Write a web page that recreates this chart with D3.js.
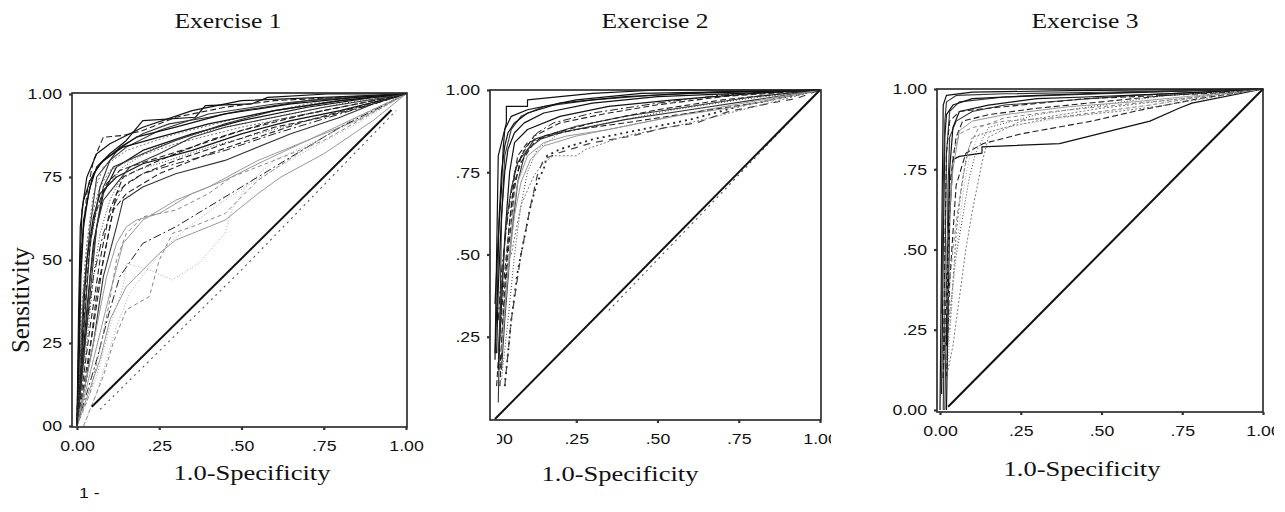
<!DOCTYPE html>
<html><head><meta charset="utf-8">
<script src="https://cdn.jsdelivr.net/npm/d3@7"></script>
<style>html,body{margin:0;padding:0;background:#fff;} svg{display:block;background:#fff;}</style>
</head><body><svg id="c" width="1285" height="512"></svg>
<script>
// ---------- DATA ----------
const panelTitles = ["Exercise 1", "Exercise 2", "Exercise 3"];
const xAxisTitle = "1.0-Specificity";
const yAxisTitle = "Sensitivity";
const footNote = "1 -";
const xTickValues = [0, 0.25, 0.5, 0.75, 1];
const xTickLabels = ["0.00", ".25", ".50", ".75", "1.00"];
const yTickValues1 = [0, 0.25, 0.5, 0.75, 1];
const yTickLabels1 = ["00", "25", "50", "75", "1.00"];
const yTickValues2 = [0.25, 0.5, 0.75, 1];
const yTickLabels2 = [".25", ".50", ".75", "1.00"];
const yTickValues3 = [0, 0.25, 0.5, 0.75, 1];
const yTickLabels3 = ["0.00", ".25", ".50", ".75", "1.00"];

// ROC curves, points are [1-specificity, sensitivity]
const ex1Curves = [
  [[0,0],[0.01,0.45],[0.02,0.62],[0.04,0.72],[0.06,0.78],[0.1,0.82],[0.15,0.86],[0.2,0.92],[0.36,0.93],[0.39,0.965],[0.53,0.97],[0.58,0.99],[0.76,1],[1,1]],
  [[0,0.02],[0.01,0.5],[0.03,0.7],[0.05,0.8],[0.08,0.87],[0.14,0.875],[0.2,0.89],[0.3,0.93],[0.45,0.96],[0.6,0.98],[0.8,0.99],[1,1]],
  [[0,0],[0.02,0.4],[0.04,0.6],[0.06,0.75],[0.1,0.8],[0.15,0.84],[0.25,0.89],[0.4,0.94],[0.6,0.97],[0.8,0.99],[1,1]],
  [[0,0],[0.01,0.3],[0.03,0.55],[0.05,0.7],[0.08,0.78],[0.15,0.83],[0.3,0.88],[0.5,0.93],[0.7,0.97],[1,1]],
  [[0,0],[0.03,0.35],[0.05,0.55],[0.08,0.7],[0.12,0.78],[0.2,0.83],[0.35,0.88],[0.5,0.92],[0.7,0.96],[0.9,0.99],[1,1]],
  [[0,0],[0.04,0.3],[0.07,0.5],[0.1,0.65],[0.14,0.75],[0.25,0.8],[0.4,0.86],[0.6,0.92],[0.8,0.96],[1,1]],
  [[0,0],[0.05,0.25],[0.08,0.45],[0.12,0.6],[0.14,0.68],[0.2,0.72],[0.3,0.76],[0.45,0.8],[0.5,0.82],[0.65,0.88],[0.8,0.93],[0.9,0.97],[1,1]],
  [[0,0],[0.05,0.2],[0.1,0.4],[0.14,0.55],[0.2,0.62],[0.3,0.68],[0.4,0.72],[0.55,0.8],[0.7,0.86],[0.85,0.92],[1,1]],
  [[0,0],[0.06,0.15],[0.1,0.3],[0.14,0.42],[0.15,0.49],[0.22,0.47],[0.29,0.44],[0.37,0.49],[0.45,0.58],[0.47,0.65],[0.52,0.73],[0.6,0.8],[0.75,0.87],[0.9,0.95],[1,1]],
  [[0,0],[0.06,0.2],[0.1,0.35],[0.13,0.45],[0.2,0.55],[0.3,0.6],[0.4,0.66],[0.5,0.72],[0.6,0.78],[0.65,0.81],[0.8,0.9],[1,1]],
  [[0.02,0],[0.08,0.15],[0.11,0.25],[0.15,0.35],[0.22,0.39],[0.25,0.5],[0.29,0.58],[0.35,0.6],[0.45,0.64],[0.55,0.74],[0.7,0.84],[0.85,0.93],[1,1]],
  [[0,0],[0.005,0.2],[0.01,0.5],[0.015,0.65],[0.03,0.75],[0.06,0.82],[0.1,0.85],[0.2,0.9],[0.35,0.95],[0.5,0.98],[1,1]],
  [[0,0],[0.02,0.2],[0.04,0.45],[0.06,0.6],[0.08,0.72],[0.11,0.78],[0.2,0.82],[0.3,0.86],[0.45,0.91],[0.6,0.95],[0.8,0.98],[1,1]],
  [[0,0],[0.03,0.15],[0.06,0.4],[0.09,0.55],[0.11,0.65],[0.15,0.7],[0.25,0.76],[0.4,0.82],[0.55,0.87],[0.7,0.92],[0.85,0.96],[1,1]],
  [[0,0],[0.04,0.1],[0.08,0.28],[0.1,0.38],[0.12,0.5],[0.15,0.58],[0.2,0.63],[0.3,0.65],[0.4,0.7],[0.47,0.75],[0.6,0.8],[0.75,0.86],[1,1]],
  [[0,0],[0.015,0.3],[0.025,0.5],[0.04,0.62],[0.07,0.72],[0.1,0.77],[0.18,0.81],[0.3,0.85],[0.5,0.9],[0.7,0.94],[0.9,0.98],[1,1]],
  [[0,0],[0.01,0.1],[0.02,0.35],[0.03,0.5],[0.05,0.63],[0.07,0.7],[0.12,0.75],[0.2,0.79],[0.35,0.83],[0.5,0.88],[0.65,0.92],[0.8,0.95],[1,1]],
  [[0,0],[0.07,0.2],[0.1,0.32],[0.15,0.42],[0.18,0.45],[0.25,0.52],[0.3,0.56],[0.4,0.6],[0.45,0.62],[0.55,0.7],[0.62,0.75],[0.75,0.82],[0.9,0.92],[1,1]],
  [[0,0],[0.04,0.55],[0.07,0.72],[0.1,0.8],[0.13,0.84],[0.2,0.88],[0.28,0.91],[0.4,0.93],[0.5,0.95],[0.7,0.98],[1,1]],
  [[0,0],[0.05,0.3],[0.08,0.5],[0.1,0.6],[0.12,0.7],[0.15,0.73],[0.2,0.76],[0.3,0.8],[0.45,0.85],[0.6,0.9],[0.75,0.93],[0.9,0.97],[1,1]],
  [[0,0],[0.008,0.25],[0.012,0.45],[0.02,0.6],[0.035,0.7],[0.05,0.76],[0.08,0.8],[0.14,0.84],[0.25,0.87],[0.4,0.91],[0.6,0.95],[0.8,0.98],[1,1]],
  [[0,0],[0.03,0.25],[0.05,0.45],[0.07,0.58],[0.1,0.68],[0.13,0.74],[0.18,0.77],[0.28,0.8],[0.4,0.84],[0.55,0.88],[0.7,0.92],[0.85,0.96],[1,1]],
  [[0.02,0],[0.06,0.1],[0.09,0.2],[0.12,0.3],[0.16,0.4],[0.22,0.48],[0.28,0.55],[0.34,0.6],[0.42,0.66],[0.48,0.7],[0.56,0.75],[0.7,0.83],[0.85,0.91],[1,1]],
  [[0,0],[0.005,0.35],[0.01,0.6],[0.02,0.68],[0.04,0.74],[0.07,0.79],[0.12,0.83],[0.18,0.87],[0.3,0.9],[0.45,0.94],[0.65,0.97],[0.85,0.99],[1,1]],
  [[0,0],[0.02,0.3],[0.035,0.5],[0.05,0.62],[0.07,0.68],[0.09,0.73],[0.13,0.77],[0.22,0.8],[0.35,0.84],[0.5,0.89],[0.7,0.94],[1,1]],
  [[0,0],[0.06,0.3],[0.09,0.45],[0.12,0.55],[0.15,0.6],[0.18,0.62],[0.25,0.64],[0.35,0.7],[0.45,0.74],[0.55,0.79],[0.7,0.86],[0.85,0.93],[1,1]],
  [[0,0],[0.01,0.2],[0.02,0.4],[0.04,0.55],[0.06,0.65],[0.09,0.72],[0.14,0.78],[0.22,0.83],[0.32,0.87],[0.45,0.9],[0.6,0.93],[0.8,0.97],[1,1]],
  [[0,0],[0.04,0.4],[0.06,0.6],[0.08,0.68],[0.12,0.73],[0.16,0.78],[0.25,0.82],[0.35,0.87],[0.45,0.9],[0.55,0.92],[0.75,0.96],[1,1]],
  [[0,0],[0.01,0.15],[0.03,0.3],[0.05,0.45],[0.08,0.58],[0.11,0.66],[0.14,0.72],[0.2,0.76],[0.3,0.79],[0.45,0.83],[0.6,0.88],[0.8,0.94],[1,1]]
];
const ex1Reference = [[0.045,0.058],[0.956,0.952]];
const ex1Chance = [[0.07,0.05],[0.5,0.47],[0.97,0.95]];

const ex2Curves = [
  [[0,0.18],[0.005,0.5],[0.01,0.8],[0.02,0.84],[0.035,0.9],[0.035,0.95],[0.1,0.95],[0.1,0.97],[0.3,0.99],[0.5,1],[1,1]],
  [[0.01,0.05],[0.015,0.3],[0.02,0.6],[0.03,0.8],[0.05,0.88],[0.08,0.92],[0.15,0.95],[0.3,0.97],[0.5,0.985],[0.7,0.995],[1,1]],
  [[0.01,0.15],[0.02,0.35],[0.03,0.55],[0.045,0.75],[0.06,0.84],[0.1,0.88],[0.2,0.92],[0.35,0.95],[0.55,0.97],[0.8,0.99],[1,1]],
  [[0.015,0.1],[0.025,0.3],[0.04,0.5],[0.06,0.7],[0.08,0.8],[0.12,0.86],[0.2,0.9],[0.35,0.93],[0.5,0.955],[0.7,0.98],[1,1]],
  [[0.02,0.15],[0.03,0.3],[0.05,0.55],[0.07,0.72],[0.09,0.8],[0.12,0.85],[0.25,0.89],[0.4,0.92],[0.6,0.95],[0.8,0.98],[1,1]],
  [[0.02,0.12],[0.04,0.3],[0.06,0.5],[0.08,0.65],[0.1,0.75],[0.13,0.82],[0.2,0.87],[0.35,0.9],[0.55,0.94],[0.75,0.97],[1,1]],
  [[0.03,0.1],[0.05,0.3],[0.07,0.45],[0.09,0.55],[0.11,0.65],[0.13,0.72],[0.15,0.76],[0.16,0.8],[0.2,0.82],[0.3,0.85],[0.45,0.88],[0.6,0.91],[0.75,0.95],[0.9,0.98],[1,1]],
  [[0.05,0.5],[0.08,0.65],[0.12,0.74],[0.15,0.78],[0.18,0.8],[0.25,0.8],[0.28,0.82],[0.4,0.86],[0.6,0.9],[0.8,0.95],[1,1]],
  [[0,0.2],[0.008,0.4],[0.012,0.6],[0.02,0.75],[0.03,0.83],[0.04,0.87],[0.06,0.9],[0.1,0.93],[0.2,0.96],[0.4,0.98],[0.6,0.99],[1,1]],
  [[0.005,0.1],[0.015,0.25],[0.03,0.45],[0.045,0.6],[0.06,0.72],[0.08,0.78],[0.12,0.84],[0.15,0.86],[0.3,0.9],[0.5,0.94],[0.7,0.97],[1,1]],
  [[0.01,0.2],[0.02,0.4],[0.035,0.6],[0.05,0.7],[0.07,0.78],[0.1,0.82],[0.14,0.85],[0.2,0.87],[0.4,0.91],[0.6,0.94],[0.8,0.97],[1,1]],
  [[0.02,0.25],[0.04,0.45],[0.06,0.62],[0.08,0.72],[0.11,0.79],[0.15,0.83],[0.25,0.86],[0.45,0.9],[0.65,0.94],[0.85,0.975],[1,1]],
  [[0,0.35],[0.01,0.55],[0.02,0.7],[0.025,0.82],[0.03,0.88],[0.04,0.9],[0.05,0.92],[0.1,0.94],[0.25,0.97],[0.45,0.99],[1,1]],
  [[0.01,0.3],[0.02,0.45],[0.04,0.62],[0.06,0.75],[0.09,0.82],[0.13,0.87],[0.18,0.9],[0.3,0.93],[0.5,0.96],[0.7,0.985],[1,1]],
  [[0.03,0.1],[0.05,0.3],[0.08,0.5],[0.11,0.65],[0.13,0.74],[0.15,0.79],[0.2,0.81],[0.3,0.84],[0.42,0.86],[0.52,0.885],[0.62,0.9],[0.72,0.935],[0.85,0.96],[0.93,0.975],[1,1]],
  [[0.005,0.2],[0.01,0.4],[0.02,0.62],[0.03,0.75],[0.04,0.82],[0.06,0.87],[0.09,0.9],[0.15,0.93],[0.3,0.96],[0.5,0.98],[0.75,0.99],[1,1]],
  [[0.015,0.15],[0.03,0.4],[0.045,0.6],[0.06,0.74],[0.07,0.8],[0.1,0.84],[0.16,0.86],[0.25,0.88],[0.4,0.9],[0.6,0.93],[0.8,0.96],[1,1]],
  [[0.02,0.2],[0.04,0.45],[0.055,0.62],[0.07,0.72],[0.1,0.8],[0.15,0.84],[0.22,0.86],[0.35,0.88],[0.55,0.92],[0.75,0.95],[1,1]]
];
const ex2Reference = [[0,0],[1,1]];
const ex2Chance = [[0.35,0.33],[0.7,0.69],[0.97,0.97]];

const ex3Curves = [
  [[0,0],[0.005,0.5],[0.01,0.95],[0.02,0.98],[0.1,0.99],[0.4,0.995],[1,1]],
  [[0.01,0],[0.015,0.4],[0.02,0.8],[0.03,0.93],[0.06,0.96],[0.2,0.975],[0.5,0.985],[0.8,0.995],[1,1]],
  [[0.02,0],[0.025,0.3],[0.03,0.6],[0.04,0.78],[0.06,0.79],[0.13,0.8],[0.13,0.82],[0.37,0.83],[0.65,0.9],[0.74,0.94],[0.78,0.956],[1,1]],
  [[0.02,0.1],[0.03,0.4],[0.05,0.7],[0.08,0.8],[0.134,0.83],[0.25,0.86],[0.47,0.9],[0.6,0.93],[0.8,0.97],[1,1]],
  [[0.02,0.1],[0.04,0.2],[0.06,0.35],[0.08,0.5],[0.1,0.62],[0.12,0.72],[0.13,0.77],[0.15,0.85],[0.25,0.9],[0.5,0.94],[0.75,0.97],[1,1]],
  [[0.01,0.15],[0.03,0.3],[0.05,0.48],[0.07,0.6],[0.09,0.72],[0.11,0.8],[0.15,0.88],[0.3,0.92],[0.5,0.95],[0.7,0.98],[1,1]],
  [[0.015,0.2],[0.025,0.35],[0.04,0.5],[0.055,0.62],[0.07,0.72],[0.09,0.82],[0.12,0.88],[0.2,0.91],[0.35,0.93],[0.55,0.95],[0.75,0.97],[1,1]],
  [[0.005,0.05],[0.01,0.5],[0.015,0.85],[0.02,0.92],[0.04,0.95],[0.1,0.97],[0.3,0.98],[0.6,0.99],[1,1]],
  [[0.015,0],[0.02,0.3],[0.025,0.7],[0.03,0.85],[0.05,0.9],[0.1,0.93],[0.2,0.95],[0.4,0.965],[0.6,0.98],[0.8,0.99],[1,1]],
  [[0.01,0.1],[0.02,0.4],[0.03,0.7],[0.05,0.85],[0.07,0.9],[0.15,0.92],[0.3,0.94],[0.5,0.96],[0.7,0.98],[1,1]],
  [[0.01,0.2],[0.02,0.5],[0.04,0.75],[0.06,0.87],[0.1,0.9],[0.2,0.92],[0.4,0.945],[0.6,0.96],[0.8,0.98],[1,1]],
  [[0.02,0.2],[0.025,0.5],[0.03,0.75],[0.04,0.88],[0.06,0.93],[0.15,0.95],[0.3,0.97],[0.45,0.975],[0.7,0.985],[1,1]],
  [[0.03,0.25],[0.04,0.4],[0.05,0.55],[0.065,0.68],[0.08,0.78],[0.1,0.85],[0.2,0.88],[0.35,0.91],[0.55,0.93],[0.7,0.95],[0.85,0.975],[1,1]],
  [[0.005,0.3],[0.01,0.7],[0.015,0.9],[0.02,0.96],[0.05,0.98],[0.2,0.985],[0.5,0.99],[0.75,0.995],[1,1]],
  [[0.01,0.1],[0.015,0.5],[0.02,0.8],[0.03,0.9],[0.06,0.93],[0.15,0.94],[0.3,0.955],[0.45,0.97],[0.7,0.98],[0.9,0.99],[1,1]],
  [[0.02,0.3],[0.03,0.6],[0.04,0.8],[0.06,0.86],[0.1,0.88],[0.2,0.9],[0.35,0.91],[0.5,0.93],[0.65,0.95],[0.8,0.975],[1,1]],
  [[0.025,0.15],[0.035,0.3],[0.045,0.45],[0.06,0.58],[0.075,0.7],[0.09,0.78],[0.12,0.86],[0.25,0.89],[0.45,0.92],[0.65,0.95],[0.85,0.98],[1,1]]
];
const ex3Reference = [[0.025,0.01],[1,1]];

// ---------- STYLES (kept apart from data) ----------
const lineStyles = [
  {c:"#111", w:1.2, d:null},
  {c:"#222", w:1.1, d:"6,3"},
  {c:"#777", w:1.0, d:"2,2"},
  {c:"#333", w:1.1, d:null},
  {c:"#888", w:1.0, d:"4,3"},
  {c:"#444", w:1.0, d:"1,2"},
  {c:"#999", w:1.0, d:null},
  {c:"#222", w:1.0, d:"8,3,2,3"},
  {c:"#222", w:1.8, d:"2,4"},
  {c:"#444", w:1.2, d:"7,6"},
  {c:"#aaa", w:1.0, d:"1,2"}
];
const ex1Styles = [0,1,3,2,0,1,3,6,10,7,4,0,3,1,4,2,0,6,3,1,0,5,10,0,1,6,5,3,7];
const ex2Styles = [0,3,0,1,3,5,8,2,0,1,3,6,0,7,9,0,1,6];
const ex3Styles = [0,3,0,1,2,5,4,0,3,1,6,0,2,3,1,4,10];

const layout = [
  {frame:{l:72,t:93,r:407,b:427}, xr:[77,406], yr:[426,94], titleX:228, axX:252, axY:480, clipX:null},
  {frame:{l:490,t:90,r:821,b:420}, xr:[495,820], yr:[419,90], titleX:655, axX:620, axY:481, clipX:[497,831]},
  {frame:{l:937,t:89,r:1263,b:412}, xr:[940,1263], yr:[410,89], titleX:1085, axX:1082, axY:476, clipX:[900,1274]}
];
const curveSets = [ex1Curves, ex2Curves, ex3Curves];
const styleSets = [ex1Styles, ex2Styles, ex3Styles];
const refSets = [[ex1Reference],[ex2Reference],[ex3Reference]];
const chanceSets = [[ex1Chance],[ex2Chance],[]];
const yTickValueSets = [yTickValues1, yTickValues2, yTickValues3];
const yTickLabelSets = [yTickLabels1, yTickLabels2, yTickLabels3];

// ---------- DRAW ----------
const svg = d3.select("#c");
const defs = svg.append("defs");
const sansFont = "'Liberation Sans', Arial, sans-serif";
const serifFont = "'Liberation Serif', 'Times New Roman', serif";

layout.forEach((L, p) => {
  const x = d3.scaleLinear().domain([0,1]).range(L.xr);
  const y = d3.scaleLinear().domain([0,1]).range(L.yr);
  const g = svg.append("g");
  const line = d3.line().x(d => x(d[0])).y(d => y(d[1]));

  g.append("g").selectAll("path").data(curveSets[p]).join("path")
    .attr("d", line)
    .attr("fill","none")
    .attr("stroke", (d,i) => lineStyles[styleSets[p][i]].c)
    .attr("stroke-width", (d,i) => lineStyles[styleSets[p][i]].w)
    .attr("stroke-dasharray", (d,i) => lineStyles[styleSets[p][i]].d)
    .attr("stroke-linejoin","round");

  g.append("g").selectAll("path").data(chanceSets[p]).join("path")
    .attr("d", line).attr("fill","none").attr("stroke","#555")
    .attr("stroke-width",1.1).attr("stroke-dasharray","2,4");

  g.append("g").selectAll("path").data(refSets[p]).join("path")
    .attr("d", line).attr("fill","none").attr("stroke","#111").attr("stroke-width",2);

  const F = L.frame;
  g.append("rect").attr("x",F.l).attr("y",F.t).attr("width",F.r-F.l).attr("height",F.b-F.t)
    .attr("fill","none").attr("stroke","#222").attr("stroke-width",1.6);

  const xa = g.append("g").attr("transform",`translate(0,${F.b})`)
    .call(d3.axisBottom(x).tickValues(xTickValues).tickFormat((d,i)=>xTickLabels[i]).tickSize(3).tickPadding(10));
  if (L.clipX) {
    const id = "clipx"+p;
    defs.append("clipPath").attr("id",id).append("rect")
      .attr("x",L.clipX[0]).attr("y",-20).attr("width",L.clipX[1]-L.clipX[0]).attr("height",60);
    xa.attr("clip-path",`url(#${id})`);
  }
  const ya = g.append("g").attr("transform",`translate(${F.l},0)`)
    .call(d3.axisLeft(y).tickValues(yTickValueSets[p]).tickFormat((d,i)=>yTickLabelSets[p][i]).tickSize(3).tickPadding(7));
  [xa, ya].forEach(a => {
    a.select(".domain").remove();
    a.selectAll(".tick line").attr("stroke","#333").attr("stroke-width",2.2);
    a.selectAll(".tick text").attr("fill","#111").attr("font-family",sansFont).attr("font-size",15).classed("stretch",true);
  });

  g.append("text").attr("x",L.titleX).attr("y",28).attr("text-anchor","middle")
    .attr("font-family",serifFont).attr("font-size",21).attr("fill","#111")
    .attr("textLength",107).attr("lengthAdjust","spacingAndGlyphs").text(panelTitles[p]);
  g.append("text").attr("x",L.axX).attr("y",L.axY).attr("text-anchor","middle")
    .attr("font-family",serifFont).attr("font-size",21).attr("fill","#111")
    .attr("textLength",157).attr("lengthAdjust","spacingAndGlyphs").text(xAxisTitle);
});

svg.append("text").attr("transform","translate(29,300) rotate(-90) scale(1,1.2)")
  .attr("text-anchor","middle").attr("font-family",serifFont).attr("font-size",21).attr("fill","#111")
  .attr("textLength",106).attr("lengthAdjust","spacingAndGlyphs").text(yAxisTitle);

svg.append("text").attr("x",79).attr("y",498).attr("font-family",sansFont).attr("font-size",15)
  .attr("fill","#111").classed("stretch",true).text(footNote);

svg.selectAll("text.stretch").each(function(){
  const len = this.getComputedTextLength();
  d3.select(this).attr("textLength", len*1.18).attr("lengthAdjust","spacingAndGlyphs");
});
</script></body></html>
